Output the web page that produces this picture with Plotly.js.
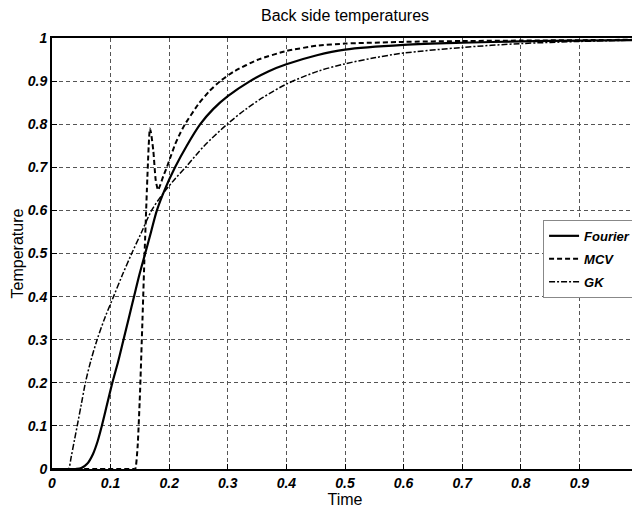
<!DOCTYPE html>
<html>
<head>
<meta charset="utf-8">
<script src="https://cdn.plot.ly/plotly-3.0.1.min.js"></script>
<style>
html,body{margin:0;padding:0;overflow:hidden;background:#fff;}
#chart{width:680px;height:513px;}
</style>
</head>
<body>
<div id="chart"></div>
<script>
// ---- data ----
const fourierT = [0, 0.04, 0.05, 0.06, 0.07, 0.078, 0.085, 0.094, 0.103, 0.113, 0.122, 0.131, 0.14, 0.149, 0.159, 0.169, 0.179, 0.193, 0.21, 0.23, 0.253, 0.275, 0.3, 0.338, 0.37, 0.4, 0.452, 0.5, 0.6, 0.7, 0.8, 0.9, 1.0];
const fourierV = [0, 0, 0.002, 0.012, 0.035, 0.065, 0.1, 0.15, 0.2, 0.25, 0.3, 0.35, 0.4, 0.45, 0.5, 0.55, 0.6, 0.65, 0.7, 0.75, 0.8, 0.835, 0.865, 0.9, 0.923, 0.939, 0.96, 0.973, 0.984, 0.989, 0.992, 0.994, 0.995];

const mcvT = [0, 0.138, 0.142, 0.146, 0.150, 0.154, 0.158, 0.162, 0.165, 0.167, 0.169, 0.173, 0.177, 0.181, 0.185, 0.19, 0.196, 0.203, 0.21, 0.218, 0.227, 0.25, 0.268, 0.287, 0.31, 0.35, 0.4, 0.452, 0.5, 0.6, 0.7, 0.8, 0.9, 1.0];
const mcvV = [0, 0, 0, 0.05, 0.17, 0.33, 0.5, 0.65, 0.75, 0.79, 0.78, 0.737, 0.67, 0.647, 0.66, 0.68, 0.7, 0.727, 0.753, 0.777, 0.8, 0.847, 0.876, 0.9, 0.922, 0.949, 0.97, 0.982, 0.987, 0.991, 0.993, 0.994, 0.995, 0.996];

const gkT = [0, 0.024, 0.028, 0.033, 0.038, 0.043, 0.05, 0.057, 0.066, 0.077, 0.09, 0.105, 0.12, 0.136, 0.153, 0.17, 0.19, 0.208, 0.228, 0.26, 0.299, 0.33, 0.36, 0.4, 0.452, 0.5, 0.55, 0.6, 0.7, 0.8, 0.9, 1.0];
const gkV = [0, 0, 0, 0.03, 0.065, 0.1, 0.15, 0.2, 0.25, 0.3, 0.35, 0.4, 0.45, 0.5, 0.55, 0.6, 0.64, 0.67, 0.7, 0.75, 0.8, 0.834, 0.862, 0.893, 0.922, 0.94, 0.954, 0.965, 0.978, 0.987, 0.992, 0.995];

const seriesNames = ["Fourier", "MCV", "GK"];
const xTickVals = [0, 0.1, 0.2, 0.3, 0.4, 0.5, 0.6, 0.7, 0.8, 0.9];
const xTickText = ["0", "0.1", "0.2", "0.3", "0.4", "0.5", "0.6", "0.7", "0.8", "0.9"];
const yTickVals = [0, 0.1, 0.2, 0.3, 0.4, 0.5, 0.6, 0.7, 0.8, 0.9, 1];
const yTickText = ["0", "0.1", "0.2", "0.3", "0.4", "0.5", "0.6", "0.7", "0.8", "0.9", "1"];

const FONT = "Liberation Sans, Arial, sans-serif";
const tickFont = {family: FONT, size: 14, color: "#000", weight: "bold", style: "italic"};

const traces = [
  {x: fourierT, y: fourierV, name: seriesNames[0], mode: "lines", legendgroup: "a",
   line: {color: "#000", width: 2.2, dash: "solid", shape: "spline", smoothing: 0.9}},
  {x: mcvT, y: mcvV, name: seriesNames[1], mode: "lines", legendgroup: "b",
   line: {color: "#000", width: 2, dash: "5px,3px", shape: "spline", smoothing: 0.5}},
  {x: gkT, y: gkV, name: seriesNames[2], mode: "lines", legendgroup: "c",
   line: {color: "#000", width: 1.5, dash: "6px,2px,2px,2px", shape: "spline", smoothing: 0.9}}
];

const layout = {
  width: 680, height: 513,
  margin: {l: 52, r: 42, t: 38, b: 44},
  paper_bgcolor: "#fff", plot_bgcolor: "#fff",
  showlegend: true,
  title: {text: "Back side temperatures", font: {family: FONT, size: 16, color: "#000"},
          x: 0.5, xref: "paper", xanchor: "center", y: 1 - 15/513, yref: "container", yanchor: "middle"},
  xaxis: {
    range: [0, 1], tickvals: xTickVals, ticktext: xTickText, tickfont: tickFont,
    showline: true, linecolor: "#000", linewidth: 2, mirror: true,
    showgrid: true, gridcolor: "#555", gridwidth: 1, griddash: "4px,3px",
    zeroline: false, ticks: "inside", ticklen: 5, tickcolor: "#000",
    title: {text: "Time", font: {family: FONT, size: 16, color: "#000"}, standoff: 4},
    automargin: false, fixedrange: true
  },
  yaxis: {
    range: [0, 1], tickvals: yTickVals, ticktext: yTickText, tickfont: tickFont,
    showline: true, linecolor: "#000", linewidth: 2, mirror: true,
    showgrid: true, gridcolor: "#555", gridwidth: 1, griddash: "4px,3px",
    zeroline: false, ticks: "inside", ticklen: 5, tickcolor: "#000",
    title: {text: "Temperature", font: {family: FONT, size: 16, color: "#000"}, standoff: 0},
    automargin: false, fixedrange: true
  },
  legend: {
    x: 0.838, xanchor: "left", xref: "paper",
    y: 0.578, yanchor: "top", yref: "paper",
    bgcolor: "#fff", bordercolor: "#888", borderwidth: 1,
    font: {family: FONT, size: 13, color: "#000", weight: "bold", style: "italic"},
    traceorder: "grouped", tracegroupgap: 3
  }
};

Plotly.newPlot("chart", traces, layout, {displayModeBar: false, staticPlot: true});
</script>
</body>
</html>
